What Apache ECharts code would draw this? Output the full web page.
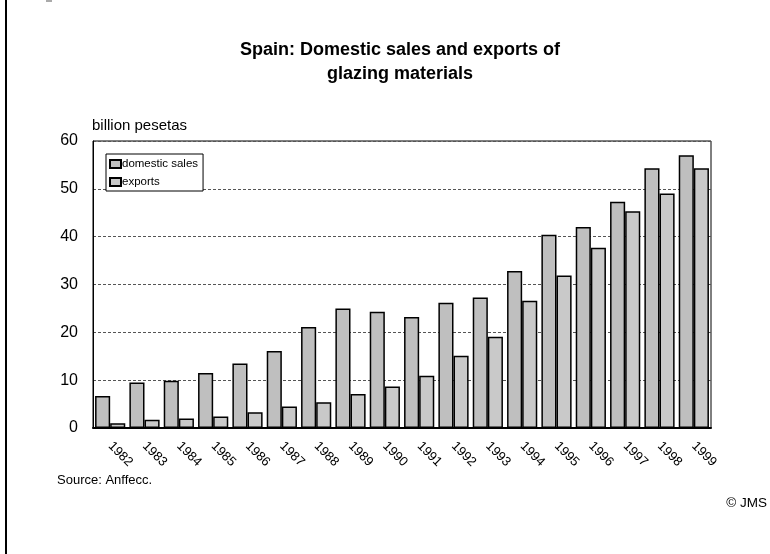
<!DOCTYPE html>
<html>
<head>
<meta charset="utf-8">
<script src="https://cdn.jsdelivr.net/npm/echarts@6/dist/echarts.min.js"></script>
<style>
html,body{margin:0;padding:0;background:#fff;}
#chart{width:770px;height:554px;}
</style>
</head>
<body>
<div id="chart"></div>
<script>
const years = ['1982','1983','1984','1985','1986','1987','1988','1989','1990','1991','1992','1993','1994','1995','1996','1997','1998','1999'];
const domesticSales = [6.7, 9.5, 9.9, 11.5, 13.5, 16.1, 21.1, 25.0, 24.3, 23.2, 26.2, 27.3, 32.8, 40.4, 42.0, 47.3, 54.3, 57.0];
const exportsData = [1.0, 1.7, 2.0, 2.4, 3.3, 4.5, 5.4, 7.1, 8.7, 10.9, 15.1, 19.1, 26.6, 31.9, 37.7, 45.3, 49.0, 54.3];
const yTicks = [0, 10, 20, 30, 40, 50, 60];

const font = 'Liberation Sans, Arial, sans-serif';
const chart = echarts.init(document.getElementById('chart'), null, {renderer: 'canvas'});
chart.setOption({
  animation: false,
  backgroundColor: '#ffffff',
  title: {
    text: 'Spain: Domestic sales and exports of\nglazing materials',
    left: 395, top: 33, textAlign: 'center',
    textStyle: {fontFamily: font, fontSize: 18, fontWeight: 'bold', color: '#000', lineHeight: 24}
  },
  legend: {
    orient: 'vertical', left: 106, top: 154,
    data: ['domestic sales', 'exports'],
    backgroundColor: '#fff', borderColor: '#000', borderWidth: 1,
    padding: [4, 5, 3, 3], itemGap: 6,
    itemWidth: 11, itemHeight: 8,
    icon: 'rect',
    textStyle: {fontFamily: font, fontSize: 11.5, color: '#000', padding: [0, 0, 0, -4]}
  },
  grid: {left: 93, right: 59, top: 141, bottom: 126, show: true, borderColor: '#000', borderWidth: 1},
  xAxis: {
    type: 'category', data: years,
    axisLine: {lineStyle: {color: '#000', width: 2}},
    axisTick: {show: false},
    axisLabel: {rotate: -45, fontFamily: font, fontSize: 13, color: '#000', margin: 16}
  },
  yAxis: {
    type: 'value', min: yTicks[0], max: yTicks[yTicks.length - 1], interval: 10,
    axisLine: {show: true, lineStyle: {color: '#000', width: 1}},
    axisTick: {show: false},
    axisLabel: {fontFamily: font, fontSize: 16, color: '#000', margin: 15},
    splitLine: {lineStyle: {color: '#555', type: [3, 2], width: 1}}
  },
  series: [
    {name: 'domestic sales', type: 'bar', data: domesticSales, barGap: '0%', barCategoryGap: '12%',
     itemStyle: {color: '#bfbfbf', borderColor: '#000', borderWidth: 1.5}},
    {name: 'exports', type: 'bar', data: exportsData,
     itemStyle: {color: '#c9c9c9', borderColor: '#000', borderWidth: 1.5}}
  ],
  graphic: [
    {type: 'rect', shape: {x: 5, y: 0, width: 2, height: 554}, style: {fill: '#000'}, silent: true},
    {type: 'rect', shape: {x: 46, y: 0, width: 6, height: 2}, style: {fill: '#aaa'}, silent: true},
    {type: 'text', left: 92, top: 118, style: {text: 'billion pesetas', font: '15px ' + font, fill: '#000'}},
    {type: 'text', left: 57, top: 474, style: {text: 'Source: Anffecc.', font: '13px ' + font, fill: '#000'}},
    {type: 'text', right: 3, top: 496, style: {text: '© JMS', font: '13.5px ' + font, fill: '#000'}}
  ]
});
</script>
</body>
</html>
